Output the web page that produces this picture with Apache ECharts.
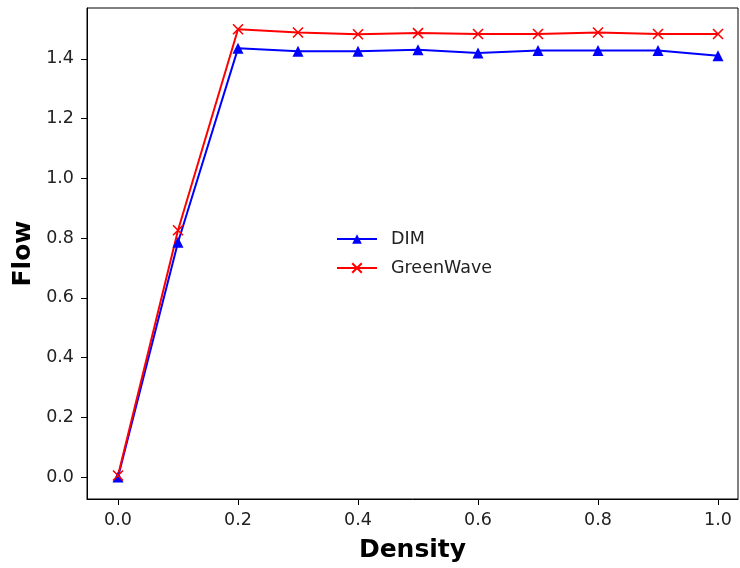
<!DOCTYPE html>
<html>
<head>
<meta charset="utf-8">
<script src="https://cdn.jsdelivr.net/npm/echarts@6/dist/echarts.min.js"></script>
<style>html,body{margin:0;padding:0;background:#fff}#c{width:740px;height:568px}</style>
</head>
<body>
<div id="c"></div>
<script>
const density = [0.0, 0.1, 0.2, 0.3, 0.4, 0.5, 0.6, 0.7, 0.8, 0.9, 1.0];
const dimFlow = [0.0, 0.786, 1.435, 1.425, 1.425, 1.430, 1.419, 1.428, 1.428, 1.428, 1.410];
const greenWaveFlow = [0.005, 0.826, 1.499, 1.488, 1.482, 1.486, 1.483, 1.483, 1.488, 1.483, 1.483];
const xTicks = [0.0, 0.2, 0.4, 0.6, 0.8, 1.0];
const yTicks = [0.0, 0.2, 0.4, 0.6, 0.8, 1.0, 1.2, 1.4];

const chart = echarts.init(document.getElementById('c'), null, {renderer: 'canvas'});
const font = 'DejaVu Sans';
chart.setOption({
  animation: false,
  backgroundColor: '#fff',
  grid: {left: 87, right: 2, top: 8, bottom: 68, show: true, borderColor: '#000', borderWidth: 1, backgroundColor: 'transparent'},
  legend: {
    orient: 'vertical', left: 331, top: 225, itemWidth: 40, itemHeight: 12, itemGap: 11,
    textStyle: {fontFamily: font, fontSize: 17.5, color: '#222', padding: [0, 0, 0, 9]},
    data: ['DIM', 'GreenWave']
  },
  xAxis: {
    type: 'value', min: -0.0517, max: 1.0333,
    name: 'Density', nameLocation: 'middle', nameGap: 39, nameMoveOverlap: false,
    nameTextStyle: {fontFamily: font, fontSize: 25, fontWeight: 'bold', color: '#000'},
    axisLine: {show: true, onZero: false, lineStyle: {color: '#000', width: 1}},
    axisTick: {show: true, length: 6, lineStyle: {color: '#000'}, customValues: xTicks},
    axisLabel: {fontFamily: font, fontSize: 17.5, color: '#222', margin: 12, customValues: xTicks,
      formatter: v => v.toFixed(1)},
    splitLine: {show: false}
  },
  yAxis: {
    type: 'value', min: -0.0735, max: 1.570,
    name: 'Flow', nameLocation: 'middle', nameGap: 51, nameMoveOverlap: false,
    nameTextStyle: {fontFamily: font, fontSize: 25, fontWeight: 'bold', color: '#000'},
    axisLine: {show: true, onZero: false, lineStyle: {color: '#000', width: 1}},
    axisTick: {show: true, length: 6, lineStyle: {color: '#000'}, customValues: yTicks},
    axisLabel: {fontFamily: font, fontSize: 17.5, color: '#222', margin: 13, customValues: yTicks,
      formatter: v => v.toFixed(1)},
    splitLine: {show: false}
  },
  series: [
    {
      name: 'DIM', type: 'line', data: density.map((d, i) => [d, dimFlow[i]]),
      symbol: 'triangle', symbolSize: 11,
      lineStyle: {color: '#0000ff', width: 2}, itemStyle: {color: '#0000ff'}
    },
    {
      name: 'GreenWave', type: 'line', data: density.map((d, i) => [d, greenWaveFlow[i]]),
      symbol: 'path://M0,0L10,10M10,0L0,10', symbolSize: 10,
      lineStyle: {color: '#ff0000', width: 2},
      itemStyle: {color: '#ff0000', borderColor: '#ff0000', borderWidth: 1.6}
    }
  ]
});
</script>
</body>
</html>
